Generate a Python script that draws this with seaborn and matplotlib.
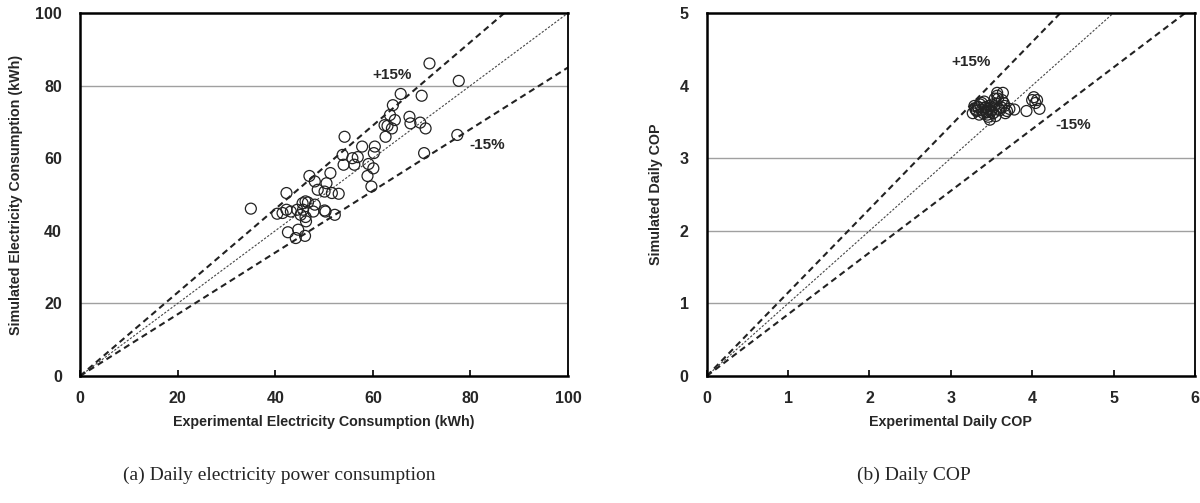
import matplotlib
matplotlib.use("Agg")
import matplotlib.pyplot as plt
import seaborn as sns
import numpy as np

# daily electricity consumption (kWh): experimental vs simulated
exp_elec = [71.6, 77.6, 65.7, 70.0, 64.1, 63.5, 64.5, 67.5, 67.7, 69.7,
            62.4, 63.0, 63.9, 70.8, 62.6, 54.2, 77.3, 60.4, 60.2, 57.8,
            70.5, 53.8, 54.0, 55.8, 56.9, 56.2, 59.1, 60.1, 58.9, 59.7,
            51.3, 47.0, 48.1, 50.5, 48.7, 50.1, 51.6, 53.0, 42.3, 35.0,
            40.4, 41.5, 42.3, 43.2, 44.5, 45.6, 46.2, 46.7, 45.7, 45.2,
            46.2, 46.3, 47.8, 48.1, 50.1, 50.3, 52.2, 42.6, 44.7, 44.2,
            46.1]
sim_elec = [86.1, 81.3, 77.7, 77.2, 74.6, 71.9, 70.5, 71.4, 69.6, 69.8,
            69.1, 68.9, 68.2, 68.2, 65.9, 65.9, 66.4, 63.2, 61.4, 63.2,
            61.4, 60.9, 58.2, 60.0, 60.3, 58.2, 58.4, 57.2, 55.1, 52.2,
            55.9, 55.1, 53.6, 53.1, 51.3, 50.8, 50.4, 50.2, 50.4, 46.1,
            44.7, 44.9, 45.8, 45.3, 45.8, 47.6, 48.1, 47.8, 45.8, 44.4,
            43.8, 42.6, 45.3, 47.2, 45.6, 45.3, 44.4, 39.6, 40.3, 38.0,
            38.6]

# daily COP: experimental vs simulated
exp_cop = [3.27, 3.29, 3.30, 3.32, 3.34, 3.36, 3.38, 3.40, 3.41, 3.42,
           3.44, 3.45, 3.46, 3.47, 3.48, 3.50, 3.52, 3.53, 3.55, 3.56,
           3.57, 3.58, 3.60, 3.62, 3.64, 3.65, 3.67, 3.69, 3.72, 3.78,
           3.35, 3.38, 3.43, 3.49, 3.54, 3.59, 3.63, 3.33, 3.46, 3.51,
           3.93, 4.00, 4.02, 4.04, 4.06, 4.09, 3.31, 3.44, 3.57, 3.66]
sim_cop = [3.62, 3.72, 3.68, 3.65, 3.70, 3.74, 3.66, 3.62, 3.78, 3.70,
           3.64, 3.60, 3.68, 3.72, 3.53, 3.66, 3.62, 3.70, 3.58, 3.75,
           3.90, 3.82, 3.66, 3.70, 3.90, 3.76, 3.62, 3.65, 3.68, 3.67,
           3.60, 3.76, 3.70, 3.64, 3.82, 3.68, 3.80, 3.71, 3.57, 3.74,
           3.65, 3.80, 3.84, 3.76, 3.80, 3.68, 3.66, 3.63, 3.86, 3.72]

ratios = [1.15, 1.0, 0.85]
grid_left = [20, 80]
grid_right = [1, 2, 3]

sns.set_theme(style="white")
plt.rcParams['font.family'] = ['Liberation Sans', 'DejaVu Sans']

fig = plt.figure(figsize=(12, 5.03), dpi=100)
ax1 = fig.add_axes([0.0667, 0.2525, 0.4067, 0.7217])
ax2 = fig.add_axes([0.589, 0.2525, 0.4067, 0.7217])


def style_axes(ax, lim_x, lim_y, xt, yt, grid_vals, xlabel, ylabel, ylab_x):
    ax.set_xlim(0, lim_x)
    ax.set_ylim(0, lim_y)
    for v in grid_vals:
        ax.axhline(v, color="#a0a0a0", lw=1.0, zorder=0)
    ax.set_xticks(xt)
    ax.set_yticks(yt)
    ax.tick_params(axis="x", bottom=True, direction="in", length=4, width=1.2,
                   color="black", pad=11, labelsize=11.5)
    ax.tick_params(axis="y", left=False, length=0, pad=13, labelsize=11.5)
    for lab in ax.get_xticklabels() + ax.get_yticklabels():
        lab.set_fontweight("bold")
    for side in ["left", "bottom", "top"]:
        ax.spines[side].set_color("black")
        ax.spines[side].set_linewidth(1.8)
    ax.spines["right"].set_color("black")
    ax.spines["right"].set_linewidth(1.3)
    ax.set_xlabel(xlabel, fontsize=10.3, fontweight="bold")
    ax.set_ylabel(ylabel, fontsize=10.3, fontweight="bold")
    ax.xaxis.set_label_coords(0.5, -0.108)
    ax.yaxis.set_label_coords(ylab_x, 0.5)


def ref_lines(ax, lim):
    xs = np.array([0, lim])
    for r in ratios:
        if r == 1.0:
            ax.plot(xs, xs * r, color="#444444", lw=0.8, ls=(0, (2, 1.5)), zorder=1)
        else:
            ax.plot(xs, xs * r, color="#222222", lw=1.5, ls=(0, (3, 2)), zorder=1)


ref_lines(ax1, 100)
sns.scatterplot(x=exp_elec, y=sim_elec, ax=ax1, marker="o", s=62,
                facecolors="none", edgecolor="#222222", linewidth=0.9, zorder=3)
style_axes(ax1, 100, 100, [0, 20, 40, 60, 80, 100], [0, 20, 40, 60, 80, 100],
           grid_left, "Experimental Electricity Consumption (kWh)",
           "Simulated Electricity Consumption (kWh)", -0.117)
ax1.text(64, 83, "+15%", ha="center", va="center", fontsize=11, fontweight="bold")
ax1.text(83.5, 63.7, "-15%", ha="center", va="center", fontsize=11, fontweight="bold")

ref_lines(ax2, 6)
sns.scatterplot(x=exp_cop, y=sim_cop, ax=ax2, marker="o", s=62,
                facecolors="none", edgecolor="#222222", linewidth=0.9, zorder=3)
style_axes(ax2, 6, 5, [0, 1, 2, 3, 4, 5, 6], [0, 1, 2, 3, 4, 5],
           grid_right, "Experimental Daily COP", "Simulated Daily COP", -0.090)
ax2.text(3.25, 4.33, "+15%", ha="center", va="center", fontsize=11, fontweight="bold")
ax2.text(4.5, 3.46, "-15%", ha="center", va="center", fontsize=11, fontweight="bold")

fig.text(279 / 1200, 1 - 475 / 503, "(a) Daily electricity power consumption",
         ha="center", va="center", fontsize=14, family="Liberation Serif")
fig.text(914 / 1200, 1 - 475 / 503, "(b) Daily COP",
         ha="center", va="center", fontsize=14, family="Liberation Serif")

fig.savefig("out.png", dpi=100)
